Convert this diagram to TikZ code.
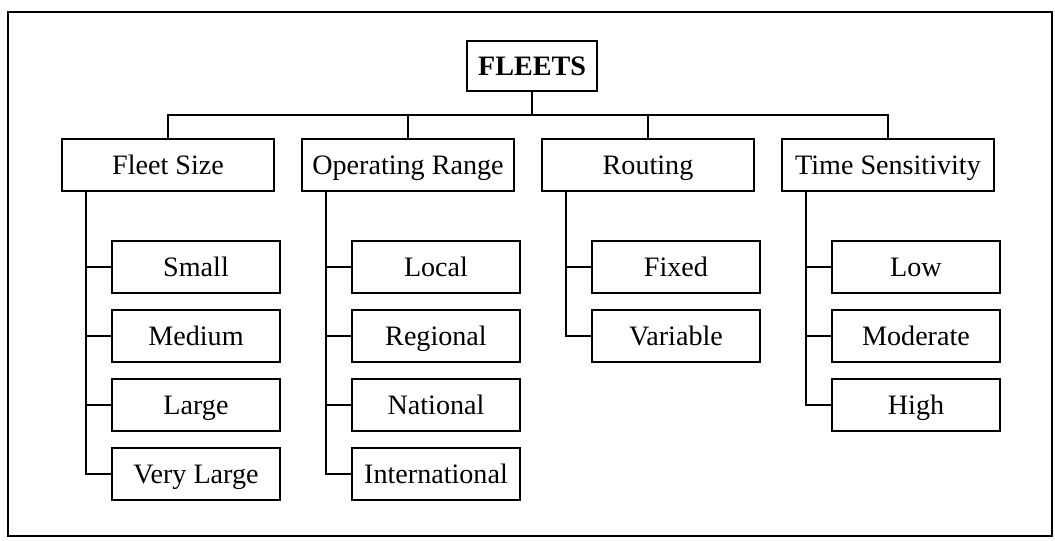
\documentclass[tikz,border=0pt]{standalone}
\usepackage{fontspec}
\setmainfont{Liberation Serif}

\tikzset{
  box/.style={draw, line width=1pt, minimum width=5.3cm, minimum height=1.3cm, text height=13.2pt, text depth=0pt, font=\fontsize{20}{24}\selectfont},
  item/.style={box, minimum width=4.2cm},
  link/.style={line width=1.5pt},
}

\begin{document}
\begin{tikzpicture}
    \useasboundingbox (0, 0) rectangle (26.375, 13.5);
    \draw[line width=1.6pt] (0.2, 0.1) rectangle (26.3, 13.2);

    \node[box, minimum width=3.25cm, minimum height=1.25cm] (fleets) at (13.3, 11.85) {\textbf{FLEETS}};

    % first level
    \node[box] (size) at (4.2, 9.375) {Fleet Size};
    \node[box] (range) at (10.2, 9.375) {Operating Range};
    \node[box] (routing) at (16.2, 9.375) {Routing};
    \node[box] (time) at (22.2, 9.375) {Time Sensitivity};

    % second level
    \node[item] (small) at (4.9, 6.825) {Small};
    \node[item] (medium) at (4.9, 5.1) {Medium};
    \node[item] (large) at (4.9, 3.375) {Large};
    \node[item] (vlarge) at (4.9, 1.65) {Very Large};

    \node[item] (local) at (10.9, 6.825) {Local};
    \node[item] (regional) at (10.9, 5.1) {Regional};
    \node[item] (national) at (10.9, 3.375) {National};
    \node[item] (intl) at (10.9, 1.65) {International};

    \node[item] (fixed) at (16.9, 6.825) {Fixed};
    \node[item] (variable) at (16.9, 5.1) {Variable};

    \node[item] (low) at (22.9, 6.825) {Low};
    \node[item] (moderate) at (22.9, 5.1) {Moderate};
    \node[item] (high) at (22.9, 3.375) {High};

    % lines from the root
    \coordinate (bus) at (13.3, 10.625);
    \draw[link] (fleets) -- (bus);
    \draw[link] (size.north) |- (bus) -| (time.north);
    \draw[link] (range.north) -- (range.north |- bus);
    \draw[link] (routing.north) -- (routing.north |- bus);

    % spines of each branch
    \coordinate (sizespine) at ([xshift=-2.05cm]size.south);
    \coordinate (rangespine) at ([xshift=-2.05cm]range.south);
    \coordinate (routingspine) at ([xshift=-2.05cm]routing.south);
    \coordinate (timespine) at ([xshift=-2.05cm]time.south);

    \draw[link] (sizespine) |- (vlarge.west);
    \draw[link] (small.west) -- (small.west -| sizespine);
    \draw[link] (medium.west) -- (medium.west -| sizespine);
    \draw[link] (large.west) -- (large.west -| sizespine);

    \draw[link] (rangespine) |- (intl.west);
    \draw[link] (local.west) -- (local.west -| rangespine);
    \draw[link] (regional.west) -- (regional.west -| rangespine);
    \draw[link] (national.west) -- (national.west -| rangespine);

    \draw[link] (routingspine) |- (variable.west);
    \draw[link] (fixed.west) -- (fixed.west -| routingspine);

    \draw[link] (timespine) |- (high.west);
    \draw[link] (low.west) -- (low.west -| timespine);
    \draw[link] (moderate.west) -- (moderate.west -| timespine);
\end{tikzpicture}
\end{document}
